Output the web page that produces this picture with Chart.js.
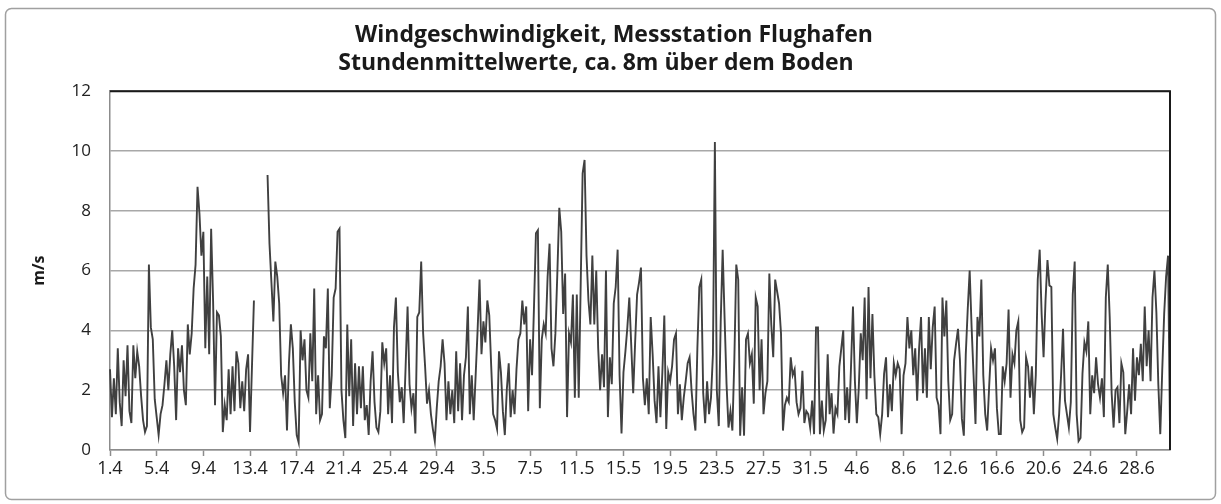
<!DOCTYPE html>
<html>
<head>
<meta charset="utf-8">
<title>Windgeschwindigkeit</title>
<script src="https://cdn.jsdelivr.net/npm/chart.js@4.4.1/dist/chart.umd.min.js"></script>
<style>
    html, body { margin: 0; padding: 0; background: #fff; }
</style>
</head>
<body>
<canvas id="windChart" width="1221" height="504"></canvas>
<script>
// April - Juni, ein Wert alle 4 Stunden
const monthNumbers = [4, 5, 6];
const monthDays = [30, 31, 30];
const stepsPerDay = 6;

const tickLabels = ['1.4', '5.4', '9.4', '13.4', '17.4', '21.4', '25.4', '29.4',
    '3.5', '7.5', '11.5', '15.5', '19.5', '23.5', '27.5', '31.5',
    '4.6', '8.6', '12.6', '16.6', '20.6', '24.6', '28.6'];

const windSpeed = [
    // 1.4 - 10.4
    2.7, 1.1, 2.4, 1.2, 3.4, 1.6, 0.8, 3.0, 1.8, 3.5,
    1.3, 0.9, 3.5, 2.4, 3.3, 2.8, 1.8, 1.0, 0.6, 0.8,
    6.2, 4.1, 3.7, 1.7, 1.1, 0.5, 1.2, 1.5, 2.2, 3.0,
    2.0, 3.2, 4.0, 2.8, 1.0, 3.4, 2.6, 3.5, 2.0, 1.5,
    4.2, 3.2, 3.9, 5.4, 6.2, 8.8, 7.9, 6.5, 7.3, 3.4,
    5.8, 3.2, 7.4, 5.0, 1.5, 4.6, 4.5, 3.8, 0.6,
    // 10.4 - 21.4 (Messausfall am 13.4)
    1.5, 1.0, 2.7, 1.2, 2.8, 1.3, 3.3, 2.9, 1.4, 2.3,
    1.3, 2.7, 3.2, 0.6, 2.8, 5.0, null, null, null, null,
    null, null, 9.2, 6.9, 5.6, 4.3, 6.3, 5.8, 4.9, 2.5,
    1.9, 2.5, 0.65, 2.9, 4.2, 3.4, 1.6, 0.5, 0.25, 4.0,
    3.0, 3.7, 2.0, 1.75, 3.9, 2.3, 5.4, 1.2, 2.5, 1.0,
    1.2, 3.8, 3.4, 5.4, 1.4, 2.5, 5.1, 5.4, 7.3, 7.4,
    2.0, 1.0,
    // 21.4 - 31.4
    0.4, 4.2, 1.8, 3.7, 0.8, 2.9, 1.2, 2.8, 1.4, 2.8,
    1.0, 1.5, 0.5, 2.3, 3.3, 1.6, 0.75, 0.6, 1.3, 3.6,
    2.9, 3.4, 1.2, 2.5, 0.9, 4.1, 5.1, 2.6, 1.6, 2.1,
    0.9, 2.8, 4.8, 2.2, 1.4, 1.9, 0.55, 4.45, 4.6, 6.3,
    3.9, 2.8, 1.55, 2.0, 1.2, 0.7, 0.3, 1.4, 2.3, 2.8,
    3.7, 2.9, 1.0, 2.3, 1.2, 2.0, 0.9, 3.3, 1.3, 2.9,
    1.0, 2.5,
    // 1.5 - 11.5
    3.1, 4.8, 1.2, 2.5, 1.0, 2.5, 4.0, 5.7, 3.2, 4.3,
    3.6, 5.0, 4.5, 2.8, 1.2, 1.0, 0.7, 3.3, 2.6, 1.3,
    0.5, 2.0, 2.9, 1.1, 2.0, 1.2, 2.7, 3.7, 3.9, 5.0,
    4.2, 4.8, 1.3, 3.7, 2.5, 4.8, 7.25, 7.35, 1.4, 3.7,
    4.2, 3.9, 5.8, 6.9, 3.4, 2.8, 3.9, 5.9, 8.1, 7.3,
    4.55, 5.9, 1.1, 3.9, 3.6, 5.2, 1.75, 5.2, 1.75, 5.5,
    9.25,
    // 11.5 - 21.5
    9.7, 6.5, 5.0, 4.2, 6.5, 4.2, 6.0, 3.4, 2.0, 3.2,
    2.1, 6.0, 1.1, 3.1, 2.2, 4.9, 5.45, 6.7, 2.5, 0.55,
    2.6, 3.3, 4.1, 5.1, 3.5, 1.9, 3.6, 5.2, 5.6, 6.1,
    2.4, 1.5, 2.4, 1.2, 4.45, 3.2, 1.65, 0.9, 2.8, 1.1,
    2.6, 4.5, 0.7, 2.6, 2.3, 2.8, 3.7, 3.9, 1.2, 2.2,
    1.0, 1.75, 2.3, 2.9, 3.1, 2.0, 1.2, 0.65, 3.4, 5.45,
    5.7, 1.9,
    // 22.5 - 1.6
    0.9, 2.3, 1.2, 1.75, 3.2, 10.3, 2.0, 0.8, 4.3, 6.7,
    4.4, 2.2, 0.75, 1.3, 0.65, 3.0, 6.2, 5.7, 0.48, 2.1,
    0.48, 3.7, 3.9, 2.9, 3.2, 1.55, 5.1, 4.8, 2.0, 3.7,
    1.2, 1.9, 2.3, 5.9, 4.2, 3.1, 5.7, 5.3, 4.9, 3.9,
    0.65, 1.5, 1.75, 1.6, 3.1, 2.5, 2.7, 1.6, 1.2, 1.4,
    2.65, 0.9, 1.3, 1.2, 0.75, 1.65, 0.53, 4.1, 4.1, 0.53,
    1.65, 0.65,
    // 2.6 - 12.6
    1.0, 3.2, 1.2, 1.9, 0.55, 1.4, 1.2, 2.8, 3.4, 4.0,
    1.0, 2.1, 0.9, 2.8, 4.8, 2.3, 0.9, 2.1, 3.9, 3.0,
    5.1, 1.7, 5.45, 2.4, 4.55, 2.5, 1.2, 1.1, 0.53, 1.2,
    2.55, 3.1, 1.1, 2.2, 1.3, 2.9, 2.5, 2.9, 2.7, 0.53,
    2.5, 2.9, 4.45, 3.4, 4.0, 2.5, 3.4, 1.65, 3.4, 4.45,
    1.9, 3.4, 1.75, 4.45, 2.7, 4.1, 4.8, 1.75, 1.5, 0.53,
    5.1,
    // 12.6 - 22.6
    3.8, 5.0, 2.3, 1.0, 1.2, 3.0, 3.55, 4.05, 3.0, 1.04,
    0.48, 3.2, 4.7, 6.0, 4.1, 2.5, 0.87, 4.45, 3.8, 5.7,
    2.5, 1.2, 0.65, 2.1, 3.4, 3.0, 3.4, 1.4, 0.53, 0.53,
    2.8, 2.3, 2.9, 4.7, 1.75, 3.2, 2.9, 4.0, 4.3, 1.0,
    0.6, 0.75, 3.1, 2.8, 1.75, 2.8, 1.2, 2.5, 5.7, 6.7,
    4.55, 3.1, 5.0, 6.35, 5.5, 5.45, 1.2, 0.75, 0.37, 1.2,
    2.5, 4.05, 1.65,
    // 23.6 - 30.6
    1.2, 0.75, 1.6, 5.2, 6.3, 1.2, 0.3, 0.4, 2.55, 3.6,
    3.3, 4.3, 1.2, 2.5, 1.9, 3.1, 2.2, 1.75, 2.4, 1.1,
    5.1, 6.2, 4.45, 1.9, 0.75, 2.0, 2.1, 0.9, 2.9, 2.6,
    0.53, 1.3, 2.2, 1.2, 3.4, 1.65, 3.1, 2.5, 3.55, 2.3,
    4.8, 2.8, 4.0, 2.3, 5.1, 6.0, 4.6, 2.2, 0.53, 2.65,
    4.55, 5.8, 6.5, 0.75
];

// Kategorien: Tag.Monat Stunde
const categories = [];
monthDays.forEach(function(n, m) {
    for (let d = 1; d <= n; d++) {
        for (let s = 0; s < stepsPerDay; s++) {
            categories.push(d + '.' + monthNumbers[m] + ' ' + (s * 24 / stepsPerDay) + ':00');
        }
    }
});

const ticksEvery = stepsPerDay * 4;

// Rahmen um Diagramm und Zeichenfläche
const framePlugin = {
    id: 'frame',
    beforeDraw(chart) {
        const ctx = chart.ctx;
        ctx.save();
        ctx.fillStyle = '#fff';
        ctx.fillRect(0, 0, chart.width, chart.height);
        ctx.strokeStyle = '#a0a0a0';
        ctx.lineWidth = 1.5;
        ctx.beginPath();
        ctx.roundRect(5.5, 8.5, 1210, 491, 6);
        ctx.stroke();
        ctx.restore();
    },
    afterDraw(chart) {
        const a = chart.chartArea;
        const ctx = chart.ctx;
        ctx.save();
        ctx.strokeStyle = '#1a1a1a';
        ctx.lineWidth = 2;
        ctx.beginPath();
        ctx.moveTo(a.left, a.top);
        ctx.lineTo(a.right, a.top);
        ctx.lineTo(a.right, a.bottom);
        ctx.stroke();
        ctx.restore();
    }
};

new Chart(document.getElementById('windChart'), {
    type: 'line',
    data: {
        labels: categories,
        datasets: [{
            label: 'Windgeschwindigkeit',
            data: windSpeed,
            borderColor: '#404040',
            borderWidth: 1.9,
            pointRadius: 0,
            tension: 0,
            spanGaps: false,
            fill: false
        }]
    },
    options: {
        responsive: false,
        animation: false,
        layout: {
            padding: { left: 22, right: 51, top: 0, bottom: 10 }
        },
        plugins: {
            legend: { display: false },
            tooltip: { enabled: false },
            title: {
                display: true,
                text: ['      Windgeschwindigkeit, Messstation Flughafen',
                       'Stundenmittelwerte, ca. 8m über dem Boden'],
                color: '#1a1a1a',
                font: { family: 'Open Sans', size: 23, weight: 'bold', lineHeight: 1.243 },
                padding: { top: 21, bottom: 13 }
            }
        },
        scales: {
            x: {
                type: 'category',
                afterBuildTicks: function(axis) {
                    axis.ticks = axis.ticks.filter(t => t.value % ticksEvery === 0);
                },
                afterFit: function(scale) { scale.height = 44; },
                ticks: {
                    autoSkip: false,
                    maxRotation: 0,
                    minRotation: 0,
                    padding: 2,
                    color: '#222',
                    font: { family: 'Open Sans', size: 18 },
                    callback: function(value) {
                        return tickLabels[Math.round(value / ticksEvery)];
                    }
                },
                grid: {
                    drawOnChartArea: false,
                    drawTicks: true,
                    tickLength: 6,
                    tickColor: '#8c8c8c',
                    tickWidth: 1.5
                },
                border: { color: '#8c8c8c', width: 1.5 }
            },
            y: {
                min: 0,
                max: 12,
                afterFit: function(scale) { scale.width = 88; },
                ticks: {
                    stepSize: 2,
                    padding: 19,
                    color: '#222',
                    font: { family: 'Open Sans', size: 17 }
                },
                grid: {
                    color: '#a8a8a8',
                    lineWidth: 1.5,
                    drawTicks: false
                },
                border: { color: '#8c8c8c', width: 1.5 },
                title: {
                    display: true,
                    text: 'm/s',
                    color: '#1a1a1a',
                    font: { family: 'Open Sans', size: 16, weight: 'bold' },
                    padding: { top: 8, bottom: 4 }
                }
            }
        }
    },
    plugins: [framePlugin]
});
</script>
</body>
</html>
